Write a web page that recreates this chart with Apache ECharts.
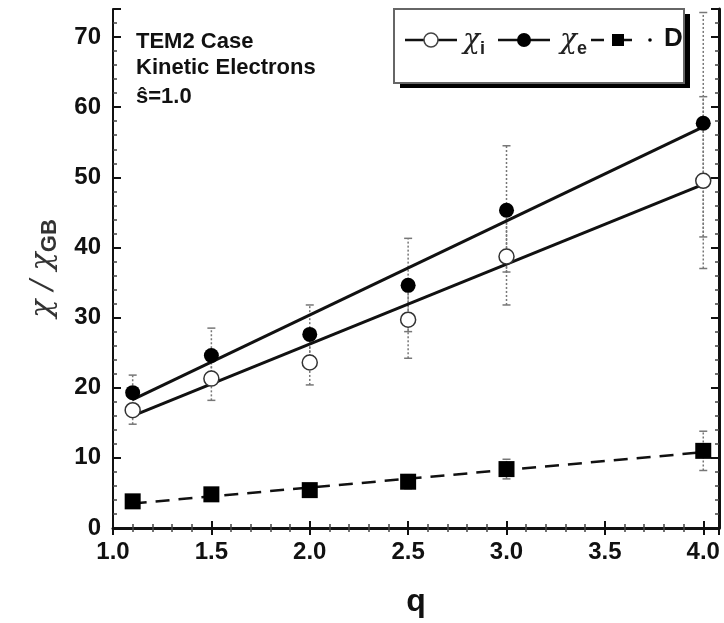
<!DOCTYPE html>
<html><head><meta charset="utf-8">
<script src="https://cdn.jsdelivr.net/npm/echarts@6/dist/echarts.min.js"></script>
<style>html,body{margin:0;padding:0;background:#fff}#c{width:724px;height:623px}</style>
</head><body><div id="c"></div>
<script>
var q = [1.1, 1.5, 2.0, 2.5, 3.0, 4.0];
var chiE = [19.3, 24.6, 27.6, 34.6, 45.3, 57.7];
var chiI = [16.8, 21.3, 23.6, 29.7, 38.7, 49.5];
var Dv = [3.8, 4.8, 5.4, 6.6, 8.4, 11.0];
var chiELow = [17.5, 20.5, 24.5, 28.0, 36.5, 41.5];
var chiEHigh = [21.8, 28.5, 31.8, 41.3, 54.5, 73.5];
var chiILow = [14.8, 18.2, 20.4, 24.2, 31.8, 37.0];
var chiIHigh = [18.5, 24.0, 27.5, 34.0, 45.5, 61.5];
var DLow = [3.0, 4.0, 4.8, 5.6, 7.0, 8.2];
var DHigh = [4.6, 5.6, 6.2, 7.6, 9.8, 13.8];
var fitQ = [1.1, 4.0];
var fitE = [18.3, 57.2];
var fitI = [16.0, 49.0];
var fitD = [3.5, 10.8];
var xTicks = [1.0, 1.5, 2.0, 2.5, 3.0, 3.5, 4.0];
var yTicks = [0, 10, 20, 30, 40, 50, 60, 70];

function pairs(xs, ys){ return xs.map(function(x,i){ return [x, ys[i]]; }); }
function errData(xs, lo, hi){ return xs.map(function(x,i){ return [x, lo[i], hi[i]]; }); }
function errRender(params, api){
  var x = api.value(0), lo = api.value(1), hi = api.value(2);
  var p1 = api.coord([x, lo]), p2 = api.coord([x, hi]);
  var st = {stroke:'#777', lineWidth:1.5, lineDash:[2,2]};
  var cs = {stroke:'#777', lineWidth:1.5};
  return {type:'group', children:[
    {type:'line', shape:{x1:p1[0],y1:p1[1],x2:p2[0],y2:p2[1]}, style:st},
    {type:'line', shape:{x1:p1[0]-4,y1:p1[1],x2:p1[0]+4,y2:p1[1]}, style:cs},
    {type:'line', shape:{x1:p2[0]-4,y1:p2[1],x2:p2[0]+4,y2:p2[1]}, style:cs}
  ]};
}
var FONT = "'Liberation Sans Narrow','Liberation Sans',Arial,sans-serif";
var chart = echarts.init(document.getElementById('c'));
var lblStyle = {color:'#111', fontFamily:FONT, fontWeight:'bold', fontSize:24};
chart.setOption({
  animation:false,
  grid:{left:113, right:5, top:9, bottom:91},
  xAxis:[{
    type:'value', min:1.0, max:4.08, interval:0.5,
    axisLine:{lineStyle:{color:'#555', width:2}},
    axisTick:{inside:true, length:7, lineStyle:{color:'#111', width:2}},
    minorTick:{show:true, splitNumber:5, length:4, lineStyle:{color:'#444', width:1.5}},
    splitLine:{show:false},
    axisLabel:Object.assign({margin:12, showMaxLabel:false, formatter:function(v){ return xTicks.indexOf(v)>=0 ? v.toFixed(1) : ''; }}, lblStyle),
    name:'q', nameLocation:'middle', nameGap:58,
    nameTextStyle:{color:'#111', fontFamily:FONT, fontWeight:'bold', fontSize:32}
  },{
    type:'value', position:'top', min:1.0, max:4.08, interval:0.5,
    axisLine:{lineStyle:{color:'#111', width:3}},
    axisTick:{inside:true, length:7, lineStyle:{color:'#111', width:2}},
    minorTick:{show:true, splitNumber:5, length:4, lineStyle:{color:'#444', width:1.5}},
    axisLabel:{show:false}, splitLine:{show:false}
  }],
  yAxis:[{
    type:'value', min:0, max:74, interval:10,
    axisLine:{lineStyle:{color:'#111', width:2}},
    axisTick:{inside:true, length:8, lineStyle:{color:'#111', width:2}},
    minorTick:{show:true, splitNumber:5, length:4, lineStyle:{color:'#444', width:1.5}},
    splitLine:{show:false},
    axisLabel:Object.assign({margin:12, showMaxLabel:false, formatter:function(v){ return yTicks.indexOf(v)>=0 ? String(v) : ''; }}, lblStyle),
    name:'{a|χ / χ}{b|GB}', nameLocation:'middle', nameGap:52, nameRotate:90,
    nameTextStyle:{rich:{
      a:{fontFamily:"'DejaVu Serif',serif", fontStyle:'italic', fontSize:30, color:'#333'},
      b:{fontFamily:FONT, fontWeight:'bold', fontSize:22, color:'#333', verticalAlign:'bottom', padding:[14,0,0,0]}
    }}
  },{
    type:'value', position:'right', min:0, max:74, interval:10,
    axisLine:{lineStyle:{color:'#111', width:3}},
    axisTick:{inside:true, length:8, lineStyle:{color:'#111', width:2}},
    minorTick:{show:true, splitNumber:5, length:4, lineStyle:{color:'#444', width:1.5}},
    axisLabel:{show:false}, splitLine:{show:false}
  }],
  series:[
    {type:'custom', renderItem:errRender, data:errData(q, chiELow, chiEHigh), z:1},
    {type:'custom', renderItem:errRender, data:errData(q, chiILow, chiIHigh), z:1},
    {type:'custom', renderItem:errRender, data:errData(q, DLow, DHigh), z:1},
    {type:'line', data:pairs(fitQ, fitE), symbol:'none', lineStyle:{color:'#111', width:3}, z:2},
    {type:'line', data:pairs(fitQ, fitI), symbol:'none', lineStyle:{color:'#111', width:3}, z:2},
    {type:'line', data:pairs(fitQ, fitD), symbol:'none', lineStyle:{color:'#111', width:2.5, type:[14,9]}, z:2},
    {type:'scatter', data:pairs(q, chiE), symbol:'circle', symbolSize:15, itemStyle:{color:'#000', opacity:1}, z:3},
    {type:'scatter', data:pairs(q, chiI), symbol:'circle', symbolSize:15, itemStyle:{color:'#fff', borderColor:'#333', borderWidth:1.5, opacity:1}, z:3},
    {type:'scatter', data:pairs(q, Dv), symbol:'rect', symbolSize:16, itemStyle:{color:'#000', opacity:1}, z:3}
  ],
  graphic:[
    {type:'text', left:136, top:29, style:{text:'TEM2 Case\nKinetic Electrons', fill:'#111', font:'bold 22px '+FONT, lineHeight:26}},
    {type:'text', left:136, top:86, style:{text:'ŝ=1.0', fill:'#111', font:'bold 22px '+FONT}},
    {type:'rect', shape:{x:400, y:14, width:290, height:74}, style:{fill:'#000'}, z:10},
    {type:'rect', shape:{x:394, y:9, width:290, height:74}, style:{fill:'#fff', stroke:'#666', lineWidth:2}, z:11},
    {type:'line', shape:{x1:405, y1:40, x2:457, y2:40}, style:{stroke:'#111', lineWidth:2.5}, z:12},
    {type:'circle', shape:{cx:431, cy:40, r:7}, style:{fill:'#fff', stroke:'#444', lineWidth:1.5}, z:13},
    {type:'text', x:463, y:24, style:{rich:{a:{fontFamily:"'DejaVu Serif',serif", fontStyle:'italic', fontSize:28, fill:'#222'}, b:{fontFamily:FONT, fontWeight:'bold', fontSize:18, fill:'#222', padding:[16,0,0,0]}}, text:'{a|χ}{b|i}'}, z:12},
    {type:'line', shape:{x1:498, y1:40, x2:550, y2:40}, style:{stroke:'#111', lineWidth:2.5}, z:12},
    {type:'circle', shape:{cx:524, cy:40, r:7}, style:{fill:'#000'}, z:13},
    {type:'text', x:560, y:24, style:{rich:{a:{fontFamily:"'DejaVu Serif',serif", fontStyle:'italic', fontSize:28, fill:'#222'}, b:{fontFamily:FONT, fontWeight:'bold', fontSize:18, fill:'#222', padding:[16,0,0,0]}}, text:'{a|χ}{b|e}'}, z:12},
    {type:'line', shape:{x1:591, y1:40, x2:604, y2:40}, style:{stroke:'#111', lineWidth:2.5}, z:12},
    {type:'rect', shape:{x:612, y:34, width:12, height:12}, style:{fill:'#000'}, z:13},
    {type:'line', shape:{x1:624, y1:40, x2:632, y2:40}, style:{stroke:'#111', lineWidth:2.5}, z:12},
    {type:'circle', shape:{cx:650, cy:40, r:1.8}, style:{fill:'#000'}, z:13},
    {type:'text', x:664, y:26, style:{text:'D', fill:'#111', font:'bold 26px '+FONT}, z:12}
  ]
});
</script></body></html>
